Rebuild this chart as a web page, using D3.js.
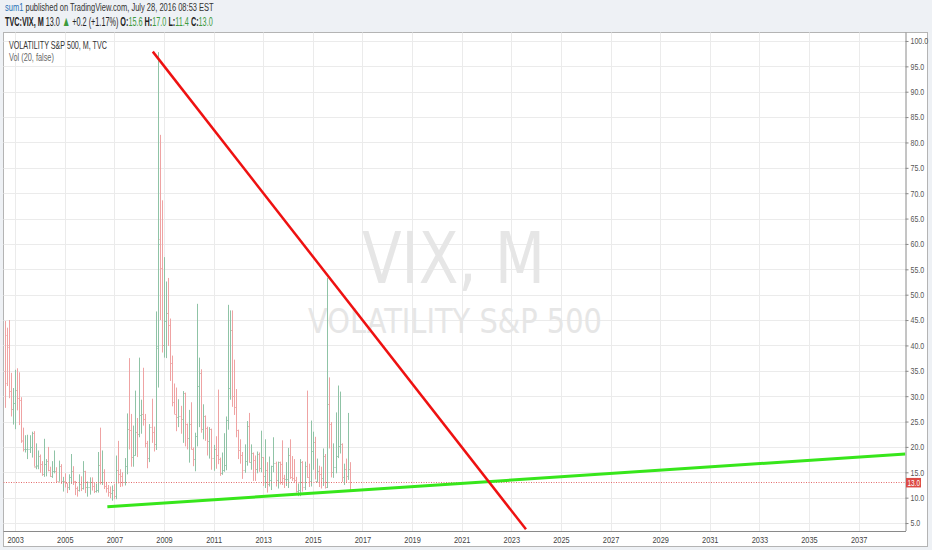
<!DOCTYPE html>
<html>
<head>
<meta charset="utf-8">
<script src="https://cdn.jsdelivr.net/npm/d3@7"></script>
<style>
  body { margin: 0; background: #eef1f5; }
  svg { display: block; }
</style>
</head>
<body>
<svg id="chart" width="932" height="550"></svg>
<script>

// monthly VIX bars, Aug 2002 .. Jul 2016
var startMonth = [2002, 7];
var opens = [
  35.0, 42.0, 40.0, 31.0, 27.5,
  28.6, 31.3, 29.6, 29.2, 21.3, 19.5, 19.5, 19.6, 19.9, 22.7, 16.3, 16.5,
  18.3, 16.6, 14.6, 16.7, 17.2, 15.5, 14.3, 15.3, 15.3, 13.3, 16.3, 13.2,
  13.3, 12.8, 12.1, 14.0, 15.3, 13.3, 12.0, 11.6, 12.6, 11.9, 15.3, 12.1,
  12.1, 13.0, 12.3, 11.4, 11.6, 16.4, 13.1, 15.0, 12.3, 12.0, 11.1, 10.9,
  11.6, 10.4, 15.4, 14.6, 14.2, 13.1, 16.2, 23.5, 23.4, 18.0, 18.5, 22.9,
  22.5, 26.2, 26.5, 25.6, 20.8, 17.8, 24.0, 22.9, 20.6, 39.8, 61.0, 55.3,
  40.0, 44.8, 46.4, 44.1, 36.5, 28.9, 26.4, 25.9, 26.0, 25.6, 30.7, 24.5,
  21.7, 24.6, 19.5, 17.6, 22.1, 32.1, 34.5, 23.5, 26.1, 23.7, 21.2, 23.5,
  17.8, 19.5, 18.4, 17.7, 14.8, 15.5, 16.5, 25.3, 31.6, 43.0, 30.0, 27.8,
  23.4, 19.4, 18.4, 15.5, 17.2, 24.1, 17.1, 18.9, 17.5, 15.7, 18.6, 15.9,
  18.0, 14.3, 15.5, 12.7, 13.5, 16.3, 16.9, 13.5, 17.0, 16.6, 13.8, 13.7,
  13.7, 18.4, 14.0, 13.9, 13.4, 11.4, 11.6, 17.0, 12.1, 16.3, 14.0, 13.3,
  19.2, 21.0, 13.3, 15.3, 14.6, 13.8, 18.2, 12.1, 28.4, 24.5, 15.1, 16.1,
  18.2, 20.2, 20.6, 14.0, 15.7, 14.2, 15.6
];
var highs = [
  44.8, 43.5, 45.0, 34.6, 31.6,
  35.2, 35.5, 34.7, 29.8, 23.8, 22.3, 22.4, 22.3, 23.0, 23.1, 20.7, 19.3,
  18.5, 17.2, 21.6, 17.6, 20.0, 16.1, 17.2, 19.3, 16.0, 17.3, 16.6, 14.1,
  14.8, 12.8, 14.6, 18.6, 16.2, 13.3, 12.2, 14.6, 14.2, 17.2, 15.3, 13.2,
  14.0, 14.0, 13.0, 12.8, 19.0, 23.8, 19.3, 15.6, 13.1, 12.5, 12.2, 12.4,
  12.7, 18.3, 21.2, 15.6, 15.0, 17.8, 26.6, 37.5, 26.5, 24.2, 31.1, 25.7,
  37.6, 29.3, 35.6, 26.5, 21.2, 24.5, 29.5, 24.0, 46.7, 97.8, 81.5, 68.6,
  57.4, 52.6, 53.3, 45.3, 38.0, 32.5, 31.7, 29.4, 28.1, 31.0, 30.7, 24.6,
  27.3, 28.8, 19.9, 22.8, 48.2, 37.6, 35.3, 28.4, 26.2, 24.0, 23.9, 23.6,
  20.4, 22.1, 31.3, 17.9, 18.9, 22.7, 26.0, 48.0, 46.9, 46.9, 37.2, 31.4,
  23.4, 21.5, 19.0, 20.5, 25.1, 26.7, 20.5, 18.9, 18.3, 19.1, 18.9, 23.2,
  18.0, 21.5, 17.0, 18.1, 16.3, 21.9, 17.1, 17.1, 17.1, 21.3, 14.5, 17.0,
  19.8, 21.5, 18.2, 17.6, 14.1, 12.8, 17.6, 17.2, 17.1, 31.1, 16.7, 25.2,
  23.0, 22.0, 17.7, 16.3, 16.1, 19.7, 18.6, 53.3, 33.7, 24.9, 20.7, 26.8,
  32.1, 30.9, 20.7, 16.7, 17.7, 26.7, 17.0
];
var lows = [
  27.7, 32.0, 29.6, 26.0, 24.4,
  23.5, 27.2, 24.3, 20.8, 19.1, 18.9, 17.6, 18.8, 17.9, 16.1, 15.6, 15.6,
  14.9, 14.3, 14.1, 14.2, 15.2, 14.1, 13.9, 14.8, 13.0, 13.2, 12.7, 11.2,
  12.0, 10.9, 11.5, 12.7, 12.5, 10.5, 10.2, 11.2, 11.3, 11.6, 10.9, 10.2,
  10.6, 11.4, 10.9, 11.0, 11.0, 12.6, 12.5, 11.7, 11.0, 10.2, 9.9, 9.4,
  9.7, 9.7, 12.8, 12.1, 12.2, 12.4, 14.6, 19.5, 16.1, 16.1, 18.3, 18.0,
  21.9, 22.6, 24.2, 19.9, 15.8, 17.0, 20.8, 19.1, 19.4, 31.7, 45.0, 38.6,
  37.6, 37.5, 39.9, 33.0, 28.0, 26.5, 23.1, 23.9, 22.6, 20.8, 20.1, 19.5,
  16.9, 19.5, 16.2, 15.2, 20.1, 23.9, 22.8, 21.5, 21.2, 18.3, 17.7, 15.5,
  15.3, 15.7, 16.6, 14.3, 14.5, 15.1, 15.4, 23.4, 29.3, 27.9, 26.3, 21.9,
  17.6, 16.7, 13.7, 14.9, 16.3, 16.9, 15.5, 13.3, 13.3, 14.8, 15.1, 15.0,
  12.3, 11.9, 11.0, 12.2, 11.5, 15.0, 12.2, 11.8, 12.6, 12.5, 11.9, 12.3,
  11.9, 13.7, 13.3, 12.9, 11.0, 10.3, 10.3, 11.2, 11.5, 13.9, 12.1, 12.2,
  15.5, 13.6, 13.0, 12.1, 11.8, 12.3, 11.8, 11.9, 19.7, 14.0, 13.9, 14.8,
  17.8, 18.7, 13.1, 12.5, 12.9, 13.5, 11.4
];
var closes = [
  32.6, 39.7, 31.1, 27.5, 28.6,
  31.2, 29.6, 29.2, 21.2, 19.5, 19.5, 19.5, 19.9, 22.7, 16.1, 16.3, 18.3,
  16.6, 14.6, 16.7, 17.2, 15.5, 14.3, 15.3, 15.3, 13.3, 16.3, 13.2, 13.3,
  12.8, 12.1, 14.0, 15.3, 13.3, 12.0, 11.6, 12.6, 11.9, 15.3, 12.1, 12.1,
  13.0, 12.3, 11.4, 11.6, 16.4, 13.1, 15.0, 12.3, 12.0, 11.1, 10.9, 11.6,
  10.4, 15.4, 14.6, 14.2, 13.1, 16.2, 23.5, 23.4, 18.0, 18.5, 22.9, 22.5,
  26.2, 26.5, 25.6, 20.8, 17.8, 24.0, 22.9, 20.6, 39.4, 59.9, 55.3, 40.0,
  44.8, 46.4, 44.1, 36.5, 28.9, 26.4, 25.9, 26.0, 25.6, 30.7, 24.5, 21.7,
  24.6, 19.5, 17.6, 22.1, 32.1, 34.5, 23.5, 26.1, 23.7, 21.2, 23.5, 17.8,
  19.5, 18.4, 17.7, 14.8, 15.5, 16.5, 25.3, 31.6, 43.0, 30.0, 27.8, 23.4,
  19.4, 18.4, 15.5, 17.2, 24.1, 17.1, 18.9, 17.5, 15.7, 18.6, 15.9, 18.0,
  14.3, 15.5, 12.7, 13.5, 16.3, 16.9, 13.5, 17.0, 16.6, 13.8, 13.7, 13.7,
  18.4, 14.0, 13.9, 13.4, 11.4, 11.6, 17.0, 12.1, 16.3, 14.0, 13.3, 19.2,
  21.0, 13.3, 15.3, 14.6, 13.8, 18.2, 12.1, 28.4, 24.5, 15.1, 16.1, 18.2,
  20.2, 20.6, 14.0, 15.7, 14.2, 15.6, 13.0
];

// drawings: [year, month, day, value]
var resistLine = [[2008, 6, 20, 97.9], [2023, 7, 5, 3.76]];
var supportLine = [[2006, 8, 20, 8.2], [2038, 10, 20, 18.6]];
var lastValue = 13.0;

var yTicks = [5, 10, 15, 20, 25, 30, 35, 40, 45, 50, 55, 60, 65, 70, 75, 80, 85, 90, 95, 100];
var xTickYears = [2003, 2005, 2007, 2009, 2011, 2013, 2015, 2017, 2019, 2021, 2023, 2025, 2027, 2029, 2031, 2033, 2035, 2037];

var svg = d3.select('#chart');
var font = '"Liberation Sans", Arial, sans-serif';

var plotL = 3.5, plotR = 905.5, plotT = 32.5, plotB = 531;

var x = d3.scaleTime()
  .domain([new Date(2002, 6, 14), new Date(2038, 10, 22)])
  .range([plotL, plotR]);
var y = d3.scaleLinear()
  .domain([3.43, 101.67])
  .range([plotB, plotT]);

// squeeze a text to a given width (the reference uses a narrow face)
function fit(t, px, py, width){
  t.attr('x', 0).attr('y', 0);
  var w = t.node().getComputedTextLength();
  t.attr('transform', 'translate(' + px + ',' + py + ') scale(' + (width / w) + ',1)');
}

// header
var h1 = svg.append('text').attr('font-family', font).attr('font-size', 11.5).attr('fill', '#333');
h1.append('tspan').attr('fill', '#2a72b5').text('sum1');
h1.append('tspan').text(' published on TradingView.com, July 28, 2016 08:53 EST');
fit(h1, 5, 10.5, 209);

var green = '#3d9b3d';
var h2 = svg.append('text').attr('font-family', font).attr('font-size', 12).attr('fill', '#222');
h2.append('tspan').attr('font-weight', 'bold').text('TVC:VIX, M');
h2.append('tspan').text(' 13.0 ');
h2.append('tspan').attr('fill', green).attr('font-size', 14).text('▲');
h2.append('tspan').text(' +0.2 (+1.17%) ');
[['O:', '15.6'], ['H:', '17.0'], ['L:', '11.4'], ['C:', '13.0']].forEach(function(p, i){
  h2.append('tspan').attr('font-weight', 'bold').text((i ? ' ' : '') + p[0]);
  h2.append('tspan').attr('fill', green).text(p[1]);
});
fit(h2, 5, 25.5, 208);

// frame
svg.append('rect').attr('x', 3.5).attr('y', 32.5).attr('width', 924).attr('height', 514)
  .attr('fill', '#fff').attr('stroke', '#b4b4b4');

var defs = svg.append('defs');
defs.append('clipPath').attr('id', 'plot')
  .append('rect').attr('x', plotL).attr('y', plotT).attr('width', plotR - plotL).attr('height', plotB - plotT);

// grid
var grid = svg.append('g').attr('stroke', '#ebebeb').attr('stroke-width', 1);
yTicks.forEach(function(v){
  var yy = Math.round(y(v)) + 0.5;
  grid.append('line').attr('x1', plotL).attr('x2', plotR).attr('y1', yy).attr('y2', yy);
});
xTickYears.forEach(function(yr){
  var xx = Math.round(x(new Date(yr, 0, 1))) + 0.5;
  grid.append('line').attr('x1', xx).attr('x2', xx).attr('y1', plotT).attr('y2', plotB);
});

// watermark
var wm1 = svg.append('text')
  .attr('font-family', '"DejaVu Sans", sans-serif').attr('font-size', 71).attr('fill', '#e6e6e6')
  .text('VIX, M');
fit(wm1, 362, 283, 183);
var wm2 = svg.append('text')
  .attr('font-family', '"DejaVu Sans", sans-serif').attr('font-size', 34).attr('fill', '#e6e6e6')
  .text('VOLATILITY S&P 500');
fit(wm2, 308, 333, 294);

// legend
var lg1 = svg.append('text').attr('font-family', font).attr('font-size', 10.5)
  .attr('fill', '#333').text('VOLATILITY S&P 500, M, TVC');
fit(lg1, 9, 48.5, 98);
var lg2 = svg.append('text').attr('font-family', font).attr('font-size', 10.5)
  .attr('fill', '#666').text('Vol (20, false)');
fit(lg2, 9, 61, 45);

var plot = svg.append('g').attr('clip-path', 'url(#plot)');

// bars
var bars = opens.map(function(o, i){
  return { date: new Date(startMonth[0], startMonth[1] + i, 1), o: o, h: highs[i], l: lows[i], c: closes[i] };
});
var bar = plot.selectAll('g.bar').data(bars).enter().append('g')
  .attr('class', 'bar')
  .attr('stroke', function(d){ return d.c >= d.o ? '#8fc3a6' : '#efa3a3'; })
  .attr('stroke-width', 1);
bar.append('line')
  .attr('x1', function(d){ return Math.round(x(d.date)) + 0.5; })
  .attr('x2', function(d){ return Math.round(x(d.date)) + 0.5; })
  .attr('y1', function(d){ return y(d.h); })
  .attr('y2', function(d){ return y(d.l); });
bar.append('line')
  .attr('x1', function(d){ return Math.round(x(d.date)) - 0.5; })
  .attr('x2', function(d){ return Math.round(x(d.date)) + 0.5; })
  .attr('y1', function(d){ return Math.round(y(d.o)) + 0.5; })
  .attr('y2', function(d){ return Math.round(y(d.o)) + 0.5; });
bar.append('line')
  .attr('x1', function(d){ return Math.round(x(d.date)) + 0.5; })
  .attr('x2', function(d){ return Math.round(x(d.date)) + 1.5; })
  .attr('y1', function(d){ return Math.round(y(d.c)) + 0.5; })
  .attr('y2', function(d){ return Math.round(y(d.c)) + 0.5; });

// last price line
plot.append('line')
  .attr('x1', plotL).attr('x2', plotR)
  .attr('y1', Math.round(y(lastValue)) + 0.5).attr('y2', Math.round(y(lastValue)) + 0.5)
  .attr('stroke', '#e46a6a').attr('stroke-width', 1).attr('stroke-dasharray', '1,1.5');

// trend lines
var line = d3.line()
  .x(function(d){ return x(new Date(d[0], d[1], d[2])); })
  .y(function(d){ return y(d[3]); });
plot.append('path').attr('d', line(supportLine))
  .attr('fill', 'none').attr('stroke', '#37e61b').attr('stroke-width', 3);
plot.append('path').attr('d', line(resistLine))
  .attr('fill', 'none').attr('stroke', '#ee1111').attr('stroke-width', 2.5);

// axes
var sx = 0.78;
var yAxis = d3.axisRight(y).tickValues(yTicks).tickSize(3).tickPadding(2)
  .tickFormat(d3.format('.1f'));
var gy = svg.append('g').attr('transform', 'translate(' + plotR + ',0)').call(yAxis);
gy.select('.domain').attr('stroke', '#8a8a8a').attr('d', 'M0.5,' + plotT + 'V' + plotB);
gy.selectAll('.tick line').attr('stroke', '#8a8a8a');
gy.selectAll('.tick text').attr('font-family', font).attr('font-size', 9).attr('fill', '#555')
  .attr('x', 5 / sx).attr('transform', 'scale(' + sx + ',1)');

var xAxis = d3.axisBottom(x)
  .tickValues(xTickYears.map(function(yr){ return new Date(yr, 0, 1); }))
  .tickSize(0).tickPadding(5)
  .tickFormat(d3.timeFormat('%Y'));
var gx = svg.append('g').attr('transform', 'translate(0,' + plotB + ')').call(xAxis);
gx.select('.domain').attr('stroke', '#8a8a8a').attr('d', 'M' + plotL + ',0.5H' + (plotR + 0.5));
gx.selectAll('.tick text').attr('font-family', font).attr('font-size', 9.5).attr('fill', '#444')
  .attr('transform', 'scale(' + sx + ',1)');

// last price label
var ly = y(lastValue);
svg.append('rect').attr('x', plotR + 0.5).attr('y', ly - 4.5).attr('width', 15).attr('height', 9.5)
  .attr('fill', '#dc4a44');
var lt = svg.append('text').attr('font-family', font)
  .attr('font-size', 9).attr('fill', '#fff').text(d3.format('.1f')(lastValue));
fit(lt, plotR + 2, ly + 3.3, 12.5);

</script>
</body>
</html>
